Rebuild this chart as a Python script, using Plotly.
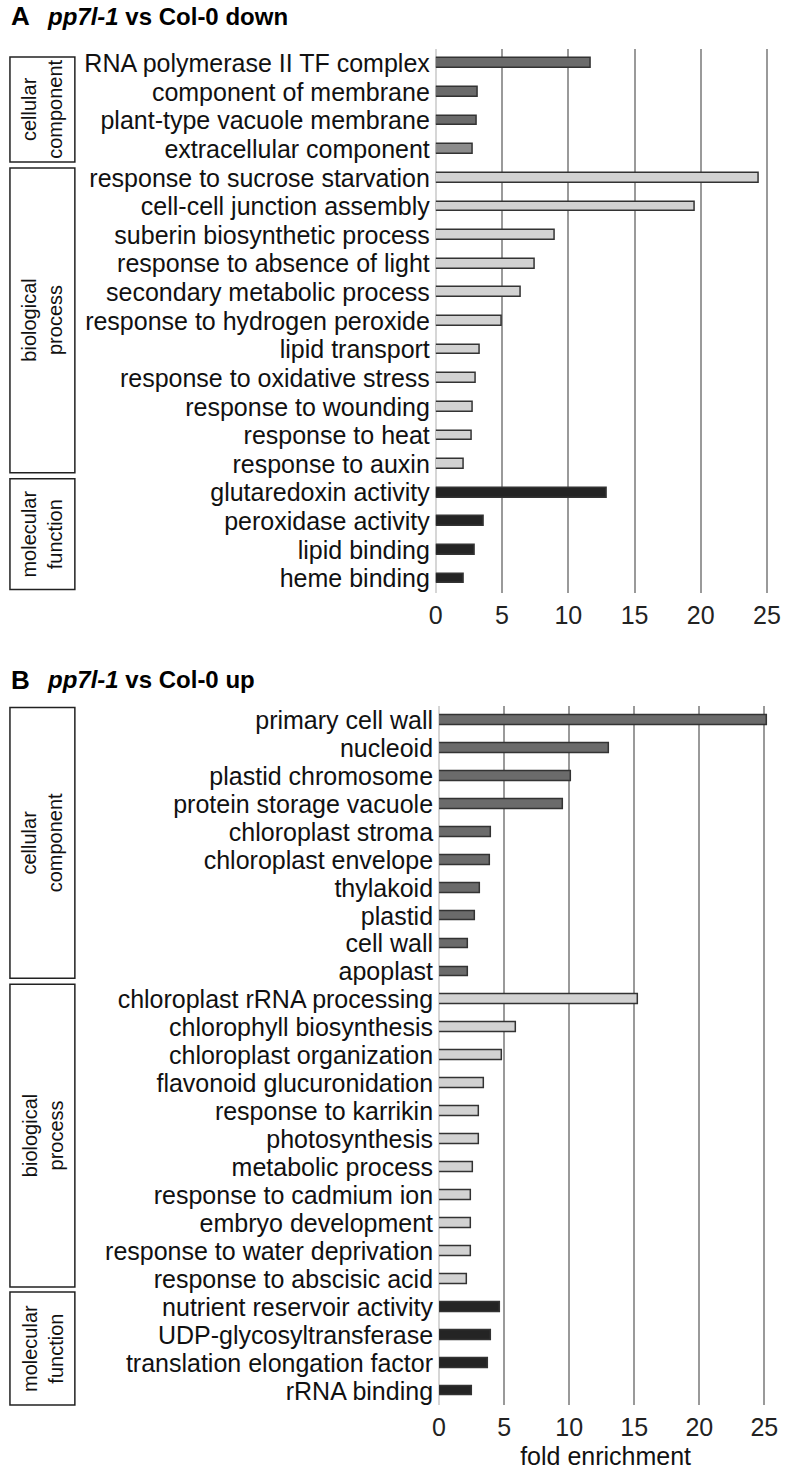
import plotly.graph_objects as go

W, H = 789, 1470

# ---------------- Data ----------------
cats_a = ["RNA polymerase II TF complex", "component of membrane", "plant-type vacuole membrane",
          "extracellular component", "response to sucrose starvation", "cell-cell junction assembly",
          "suberin biosynthetic process", "response to absence of light", "secondary metabolic process",
          "response to hydrogen peroxide", "lipid transport", "response to oxidative stress",
          "response to wounding", "response to heat", "response to auxin", "glutaredoxin activity",
          "peroxidase activity", "lipid binding", "heme binding"]
vals_a = [11.7, 3.2, 3.1, 2.8, 24.35, 19.55, 9.0, 7.5, 6.4, 5.0, 3.3, 3.0, 2.8, 2.7, 2.1,
          12.9, 3.6, 2.95, 2.15]
groups_a = ["CC", "CC", "CC", "CC2", "BP", "BP", "BP", "BP", "BP", "BP", "BP", "BP", "BP", "BP", "BP",
            "MF", "MF", "MF", "MF"]

cats_b = ["primary cell wall", "nucleoid", "plastid chromosome", "protein storage vacuole",
          "chloroplast stroma", "chloroplast envelope", "thylakoid", "plastid", "cell wall", "apoplast",
          "chloroplast rRNA processing", "chlorophyll biosynthesis", "chloroplast organization",
          "flavonoid glucuronidation", "response to karrikin", "photosynthesis", "metabolic process",
          "response to cadmium ion", "embryo development", "response to water deprivation",
          "response to abscisic acid", "nutrient reservoir activity", "UDP-glycosyltransferase",
          "translation elongation factor", "rRNA binding"]
vals_b = [25.2, 13.07, 10.15, 9.55, 4.03, 3.93, 3.13, 2.75, 2.24, 2.24,
          15.26, 5.94, 4.84, 3.45, 3.05, 3.05, 2.62, 2.45, 2.45, 2.45, 2.14,
          4.66, 3.98, 3.78, 2.57]
groups_b = ["CC"] * 10 + ["BP"] * 11 + ["MF"] * 4

xticks = [0, 5, 10, 15, 20, 25]

group_colors = {"CC": "#6b6b6b", "CC2": "#8c8c8c", "BP": "#d2d2d2", "MF": "#242424"}
FONT = "Liberation Sans, Arial, sans-serif"

fig = go.Figure()
fig.add_trace(go.Bar(x=vals_a, y=cats_a, orientation="h", width=0.34,
                     marker=dict(color=[group_colors[g] for g in groups_a],
                                 line=dict(color="#333333", width=1.5)),
                     xaxis="x", yaxis="y", showlegend=False))
fig.add_trace(go.Bar(x=vals_b, y=cats_b, orientation="h", width=0.35,
                     marker=dict(color=[group_colors[g] for g in groups_b],
                                 line=dict(color="#333333", width=1.5)),
                     xaxis="x2", yaxis="y2", showlegend=False))

def px_x(p):
    return p / W

def px_y(p):
    return 1 - p / H

xa_dom = [px_x(436), px_x(436 + 13.47 * 25.6)]
xb_dom = [px_x(439.3), px_x(439.3 + 13.23 * 25.6)]
ya_dom = [px_y(593.3), px_y(49.0)]
yb_dom = [px_y(1405.7), px_y(706.7)]

xcommon = dict(range=[0, 25.6], tickmode="array", tickvals=xticks, showgrid=True,
               gridcolor="#9a9a9a", gridwidth=1.5,
               zeroline=True, zerolinecolor="#d6d6d6", zerolinewidth=1.5, showline=False,
               ticks="", ticklabelstandoff=5,
               tickfont=dict(size=25, color="#222", family=FONT), fixedrange=True)
ycommon = dict(ticks="", showgrid=False, zeroline=False, showline=False, ticklabelstandoff=5,
               tickfont=dict(size=25, color="#111", family=FONT), fixedrange=True)

fig.update_layout(
    width=W, height=H, autosize=False, margin=dict(l=0, r=0, t=0, b=0),
    paper_bgcolor="white", plot_bgcolor="white", bargap=0,
    font=dict(family=FONT, color="#111"),
    xaxis=dict(domain=xa_dom, anchor="y", **xcommon),
    yaxis=dict(domain=ya_dom, anchor="x", type="category", categoryorder="array",
               categoryarray=cats_a, tickmode="array", tickvals=cats_a, ticktext=cats_a,
               range=[len(cats_a) - 0.5, -0.5], **ycommon),
    xaxis2=dict(domain=xb_dom, anchor="y2",
                title=dict(text="fold enrichment", font=dict(size=25, color="#111", family=FONT), standoff=12),
                **xcommon),
    yaxis2=dict(domain=yb_dom, anchor="x2", type="category", categoryorder="array",
                categoryarray=cats_b, tickmode="array", tickvals=cats_b, ticktext=cats_b,
                range=[len(cats_b) - 0.5, -0.5], **ycommon),
)

# Panel titles
titles = [("A", "<b><i>pp7l-1</i> vs Col-0 down</b>", 16.5), ("B", "<b><i>pp7l-1</i> vs Col-0 up</b>", 680)]
for letter, txt, yc in titles:
    fig.add_annotation(x=px_x(2), y=px_y(yc), xref="paper", yref="paper", text=f"<b>{letter}</b>",
                       showarrow=False, xanchor="left", yanchor="middle",
                       font=dict(size=26, color="#000", family=FONT))
    fig.add_annotation(x=px_x(39), y=px_y(yc), xref="paper", yref="paper", text=txt,
                       showarrow=False, xanchor="left", yanchor="middle",
                       font=dict(size=24, color="#000", family=FONT))

# Category boxes
boxes = [(57, 162, "cellular<br>component"), (168, 473, "biological<br>process"),
         (479, 590, "molecular<br>function"),
         (708, 979, "cellular<br>component"), (985, 1288, "biological<br>process"),
         (1293, 1406, "molecular<br>function")]
for y0, y1, label in boxes:
    fig.add_shape(type="rect", xref="paper", yref="paper", x0=px_x(3), x1=px_x(69),
                  y0=px_y(y1), y1=px_y(y0), line=dict(color="#222", width=1.5), fillcolor="rgba(0,0,0,0)")
    fig.add_annotation(x=px_x(36), y=px_y((y0 + y1) / 2), xref="paper", yref="paper", text=label,
                       showarrow=False, textangle=-90, xanchor="center", yanchor="middle",
                       font=dict(size=20, color="#111", family=FONT))

post = ("document.documentElement.style.margin='0';document.body.style.margin='0';"
        "document.body.style.padding='0';"
        "var d=document.getElementById('{plot_id}');d.style.position='absolute';"
        "d.style.left='0px';d.style.top='0px';")
fig.write_html("out.html", config={"responsive": False, "displayModeBar": False}, post_script=post)
